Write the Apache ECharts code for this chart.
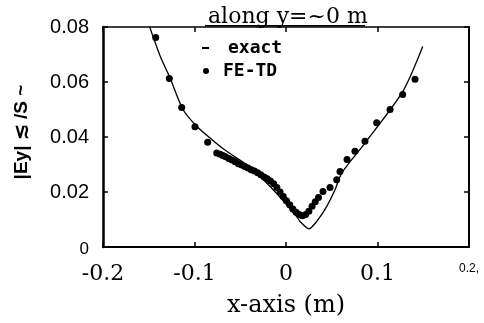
<!DOCTYPE html>
<html>
<head>
<meta charset="utf-8">
<script src="https://cdn.jsdelivr.net/npm/echarts@6/dist/echarts.min.js"></script>
<style>
  html, body { margin: 0; padding: 0; background: #fff; }
  #chart { width: 484px; height: 323px; }
</style>
</head>
<body>
<div id="chart"></div>
<script>
// exact solution, [x (m), |Ey|]
var exactX = [-0.149, -0.137, -0.127, -0.1126, -0.0976, -0.0812, -0.0648, -0.0393, -0.014,
              0.0117, 0.0153, 0.0251, 0.0336, 0.0444, 0.0536, 0.0609, 0.0863, 0.1279, 0.1494];
var exactY = [0.080, 0.0690, 0.0617, 0.0500, 0.0439, 0.0391, 0.0348, 0.0290, 0.0208,
              0.0111, 0.0093, 0.0066, 0.0093, 0.0147, 0.0208, 0.0269, 0.0378, 0.0567, 0.0729];

// FE-TD samples
var fetdX = [-0.1424, -0.1275, -0.1140, -0.0995, -0.0856,
             -0.0757, -0.072, -0.069, -0.066, -0.0625, -0.059, -0.0555, -0.052, -0.0485, -0.045,
             -0.0415, -0.038, -0.0345, -0.031, -0.0275, -0.024, -0.0205, -0.017, -0.0135, -0.010,
             -0.0065, -0.003, 0.0005, 0.004, 0.0075, 0.011, 0.0145, 0.018, 0.0215, 0.025,
             0.0285, 0.032, 0.0355, 0.0404, 0.0481, 0.0554, 0.0590, 0.0667, 0.0754, 0.0863,
             0.0991, 0.1137, 0.1275, 0.1410];
var fetdY = [0.0762, 0.0613, 0.0507, 0.0437, 0.0381,
             0.0342, 0.0337, 0.0333, 0.0328, 0.0322, 0.0316, 0.0310, 0.0303, 0.0298, 0.0293,
             0.0287, 0.0281, 0.0276, 0.0270, 0.0263, 0.0255, 0.0248, 0.0240, 0.0230, 0.0216,
             0.0200, 0.0184, 0.0168, 0.0154, 0.0138, 0.0126, 0.0118, 0.0114, 0.0118, 0.0130,
             0.0148, 0.0165, 0.0180, 0.0202, 0.0216, 0.0245, 0.0275, 0.0318, 0.0348, 0.0385,
             0.0452, 0.0500, 0.0555, 0.0610];

var xTicks = [-0.2, -0.1, 0, 0.1, 0.2];
var yTicks = [0, 0.02, 0.04, 0.06, 0.08];

function pairs(xs, ys) {
    return xs.map(function (x, i) { return [x, ys[i]]; });
}

var serif = 'DejaVu Serif';
var sans = 'Liberation Sans';

// frame axes: ticks inward on every side
var tickStyle = {inside: true, length: 5, lineStyle: {color: '#000', width: 1.5}};

var myChart = echarts.init(document.getElementById('chart'));
myChart.setOption({
    animation: false,
    backgroundColor: '#fff',
    title: {
        text: 'along y=~0 m',
        left: 203,
        top: 1,
        textStyle: {fontFamily: serif, fontSize: 22, fontWeight: 'normal', color: '#000'}
    },
    graphic: [{
        // title underline
        type: 'rect',
        shape: {x: 205, y: 25, width: 160, height: 1.5},
        style: {fill: '#000'}
    }],
    legend: [{
        data: [{name: 'exact', icon: 'rect'}],
        left: 197,
        top: 34,
        itemWidth: 7,
        itemHeight: 2,
        textStyle: {fontFamily: 'DejaVu Sans Mono', fontWeight: 'bold', fontSize: 18, color: '#000',
                    padding: [0, 0, 0, 14]}
    }, {
        data: [{name: 'FE-TD', icon: 'circle'}],
        left: 198,
        top: 57,
        itemWidth: 6,
        itemHeight: 6,
        textStyle: {fontFamily: 'DejaVu Sans Mono', fontWeight: 'bold', fontSize: 18, color: '#000',
                    padding: [0, 0, 0, 9]}
    }],
    grid: {left: 103, right: 15, top: 27, bottom: 76, outerBoundsMode: 'none', containLabel: false},
    xAxis: [{
        type: 'value',
        min: -0.2, max: 0.2, interval: 0.1,
        name: 'x-axis (m)',
        nameLocation: 'middle',
        nameGap: 47,
        nameTextStyle: {fontFamily: serif, fontSize: 24, color: '#000'},
        axisLine: {onZero: false, lineStyle: {color: '#000', width: 2}},
        axisTick: tickStyle,
        splitLine: {show: false},
        axisLabel: {
            margin: 16,
            color: '#000',
            fontFamily: serif,
            fontSize: 22,
            formatter: function (v) {
                if (Math.abs(v - xTicks[4]) < 1e-9) return '{s|' + v + ',}';
                return String(v);
            },
            rich: {s: {fontFamily: sans, fontSize: 12, padding: [0, 0, 10, 0], color: '#000'}}
        }
    }, {
        type: 'value',
        position: 'top',
        min: -0.2, max: 0.2, interval: 0.1,
        axisLine: {onZero: false, lineStyle: {color: '#000', width: 1.5}},
        axisTick: tickStyle,
        axisLabel: {show: false},
        splitLine: {show: false}
    }],
    yAxis: [{
        type: 'value',
        min: 0, max: 0.08, interval: 0.02,
        name: '|Ey| \u2272 /S ~',
        nameLocation: 'middle',
        nameRotate: 90,
        nameGap: 72,
        nameTextStyle: {fontFamily: sans, fontSize: 19, fontWeight: 'bold', color: '#000',
                        padding: [0, 0, 0, 10]},
        axisLine: {onZero: false, lineStyle: {color: '#000', width: 2.5}},
        axisTick: tickStyle,
        splitLine: {show: false},
        axisLabel: {
            margin: 14,
            color: '#000',
            fontFamily: sans,
            fontSize: 20,
            formatter: function (v) {
                if (v === yTicks[0]) return '{z|0}';
                return v.toFixed(2);
            },
            rich: {z: {fontFamily: sans, fontSize: 17, color: '#000', padding: [4, 0, 0, 0]}}
        }
    }, {
        type: 'value',
        position: 'right',
        min: 0, max: 0.08, interval: 0.02,
        axisLine: {onZero: false, lineStyle: {color: '#000', width: 2}},
        axisTick: tickStyle,
        axisLabel: {show: false},
        splitLine: {show: false}
    }],
    series: [{
        name: 'exact',
        type: 'line',
        xAxisIndex: 0,
        yAxisIndex: 0,
        data: pairs(exactX, exactY),
        smooth: 0.25,
        showSymbol: false,
        lineStyle: {color: '#000', width: 1.3},
        itemStyle: {color: '#000'}
    }, {
        name: 'FE-TD',
        type: 'scatter',
        xAxisIndex: 0,
        yAxisIndex: 0,
        data: pairs(fetdX, fetdY),
        symbol: 'circle',
        symbolSize: 7,
        itemStyle: {color: '#000', opacity: 1}
    }]
});
</script>
</body>
</html>
